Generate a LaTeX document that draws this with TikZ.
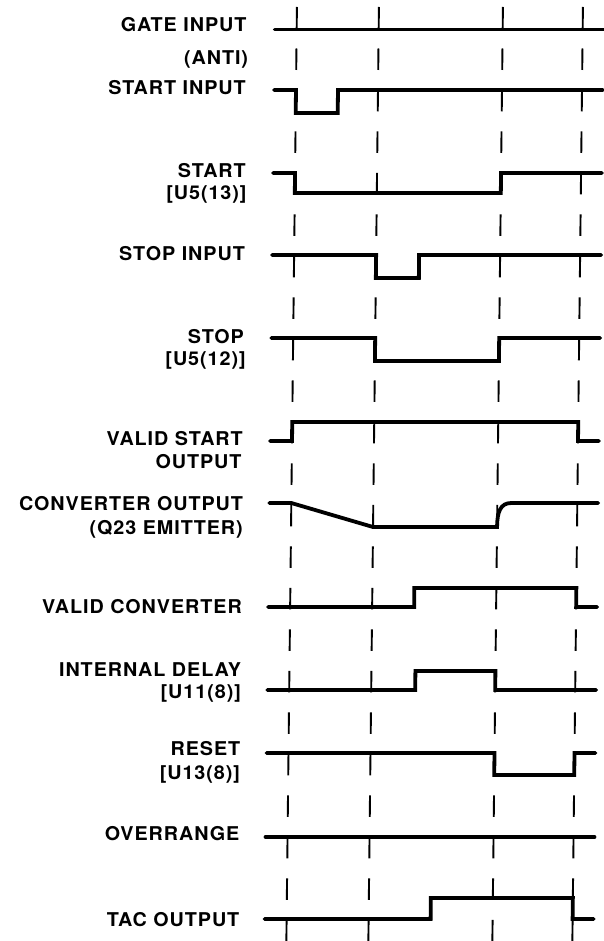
\documentclass[tikz,border=0pt]{standalone}
\usepackage{fontspec}
\setmainfont{TeX Gyre Heros}[LetterSpace=5,FakeStretch=1.04]
\tikzset{
  sig/.style={line width=3.8pt, line cap=round, line join=miter},
  grid/.style={line width=1.9pt, dash pattern=on 21.5pt off 20pt},
  lbl/.style={anchor=base east, inner sep=0pt, font=\fontsize{19}{20}\selectfont\bfseries}
}
\begin{document}
\begin{tikzpicture}[x=1pt,y=-1pt]
\useasboundingbox (0,0) rectangle (604,941);
\begin{scope}[xslant=0.0113]
\def\S{275}\def\E{604}
\def\La{297}\def\Lb{379}\def\Lc{503}\def\Ld{583}
% dashed time markers
\foreach \x in {\La,\Lb,\Lc,\Ld}
  \draw[grid] (\x,7) -- (\x,960);
% labels
\node[lbl] (g1) at (247,32) {GATE INPUT};
\node[lbl] (g2) at (249,65) {(ANTI)};
\node[lbl] (si) at (247,95) {START INPUT};
\node[lbl] (s1) at (248,178) {START};
\node[lbl] (s2) at (249,200) {[U5(13)]};
\node[lbl] (pi) at (248,260) {STOP INPUT};
\node[lbl] (p1) at (248,343) {STOP};
\node[lbl] (p2) at (250,365) {[U5(12)]};
\node[lbl] (v1) at (248,445) {VALID START};
\node[lbl] (v2) at (247,468) {OUTPUT};
\node[lbl] (c1) at (249,510) {CONVERTER OUTPUT};
\node[lbl] (c2) at (249,534) {(Q23 EMITTER)};
\node[lbl] (vc) at (249,613) {VALID CONVERTER};
\node[lbl] (d1) at (249,676) {INTERNAL DELAY};
\node[lbl] (d2) at (249,698) {[U11(8)]};
\node[lbl] (r1) at (249,755) {RESET};
\node[lbl] (r2) at (249,779) {[U13(8)]};
\node[lbl] (ov) at (249,840) {OVERRANGE};
\node[lbl] (tc) at (250,926) {TAC OUTPUT};
% waveforms
\draw[sig] (\S,29.5) -- (\E,29.5);
\draw[sig] (\S,90) -- (\La,90) -- (\La,113) -- (339,113) -- (339,90) -- (\E,90);
\draw[sig] (\S,173) -- (\La,173) -- (\La,193) -- (\Lc,193) -- (\Lc,173) -- (\E,173);
\draw[sig] (\S,255) -- (\Lb,255) -- (\Lb,278) -- (422,278) -- (422,255) -- (\E,255);
\draw[sig] (\S,338) -- (\Lb,338) -- (\Lb,361) -- (\Lc,361) -- (\Lc,338) -- (\E,338);
\draw[sig] (\S,441) -- (\La,441) -- (\La,422) -- (\Ld,422) -- (\Ld,441) -- (\E,441);
\draw[sig] (\S,503) -- (\La,503) -- (\Lb,527) -- (\Lc,527)
  .. controls (\Lc,512) and (506,503) .. (517,503) -- (\E,503);
\draw[sig] (\S,607) -- (421,607) -- (421,588) -- (\Ld,588) -- (\Ld,607) -- (\E,607);
\draw[sig] (\S,690) -- (423,690) -- (423,671) -- (\Lc,671) -- (\Lc,690) -- (\E,690);
\draw[sig] (\S,753) -- (\Lc,753) -- (\Lc,775) -- (\Ld,775) -- (\Ld,753) -- (\E,753);
\draw[sig] (\S,837) -- (\E,837);
\draw[sig] (\S,919) -- (441,919) -- (441,898) -- (\Ld,898) -- (\Ld,919) -- (\E,919);
\end{scope}
\end{tikzpicture}
\end{document}
